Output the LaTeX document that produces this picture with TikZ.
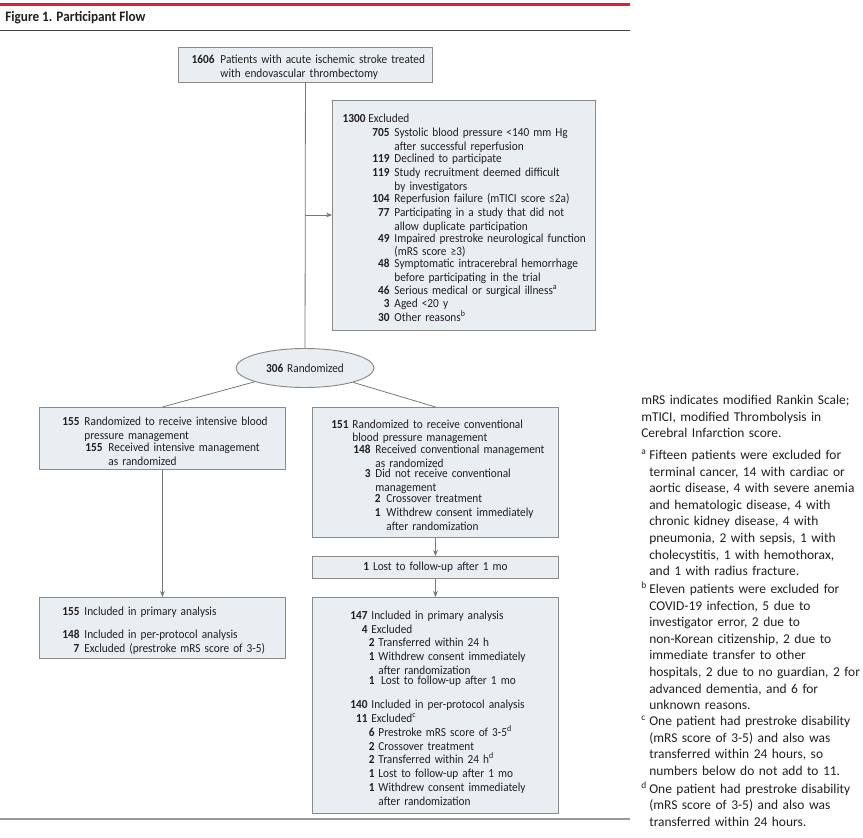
\documentclass[tikz,border=0pt]{standalone}
\usepackage{fontspec}
\setmainfont{Carlito}
\newfontfamily\condfont{Carlito}[FakeStretch=0.92]
\usetikzlibrary{shapes.geometric,arrows.meta}
\definecolor{jamared}{RGB}{222,30,62}
\definecolor{boxfill}{RGB}{232,238,241}
\definecolor{boxline}{RGB}{138,138,138}
\definecolor{linkgray}{RGB}{120,120,120}
\definecolor{inkblack}{RGB}{35,31,32}
% numero in grassetto allineato a destra, testo con rientro
\newcommand\nrow[4]{\par\noindent\rlap{\makebox[#1][r]{\textbf{#3}}}\hspace*{#2}\parbox[t]{\dimexpr\hsize-#2\relax}{\raggedright #4}\par}
\newcommand\fnote[2]{\par\vspace{3.75pt}\noindent\makebox[6pt][l]{\textsuperscript{#1}}\parbox[t]{\dimexpr\hsize-6pt\relax}{\raggedright #2}\par}
\tikzset{
  flowbox/.style={draw=boxline, fill=boxfill, line width=0.7pt, inner xsep=0pt, inner ysep=2pt,
    anchor=north west, align=left, text=inkblack, font=\condfont\fontsize{9.2}{10.4}\selectfont},
  link/.style={draw=linkgray, line width=0.6pt},
  linkarrow/.style={link, -{Stealth[length=4.5pt,width=3.6pt]}}
}
\begin{document}
\begin{tikzpicture}[x=0.75pt,y=-0.75pt]
    \useasboundingbox (0,0) rectangle (863,838);
    % Titolo
    \draw [jamared, line width=2.25pt] (0,5) -- (630,5);
    \node [anchor=west, inner sep=0pt, text=inkblack, font=\condfont\bfseries\fontsize{10.8}{13}\selectfont] (title) at (5,18) {Figure 1. Participant Flow};
    \draw [black!75, line width=0.75pt] (0,31) -- (630,31);
    \draw [black!40, line width=1.1pt] (0,819) -- (630,819);
    % Riquadri
    \node [flowbox, text width=190.5pt, minimum height=26.25pt] (pts) at (178,47) {
        \nrow{27pt}{31.5pt}{1606}{Patients with acute ischemic stroke treated\\with endovascular thrombectomy}};
    \node [flowbox, text width=197.25pt, minimum height=172.5pt] (excl) at (332,100) {
        \nrow{24.75pt}{27pt}{1300}{Excluded}
        \nrow{42.75pt}{46.5pt}{705}{Systolic blood pressure <140 mm Hg\\after successful reperfusion}
        \nrow{42.75pt}{46.5pt}{119}{Declined to participate}
        \nrow{42.75pt}{46.5pt}{119}{Study recruitment deemed difficult\\by investigators}
        \nrow{42.75pt}{46.5pt}{104}{Reperfusion failure (mTICI score ≤2a)}
        \nrow{42.75pt}{46.5pt}{77}{Participating in a study that did not\\allow duplicate participation}
        \nrow{42.75pt}{46.5pt}{49}{Impaired prestroke neurological function\\(mRS score ≥3)}
        \nrow{42.75pt}{46.5pt}{48}{Symptomatic intracerebral hemorrhage\\before participating in the trial}
        \nrow{42.75pt}{46.5pt}{46}{Serious medical or surgical illness\textsuperscript{a}}
        \nrow{42.75pt}{46.5pt}{3}{Aged <20 y}
        \nrow{42.75pt}{46.5pt}{30}{Other reasons\textsuperscript{b}}};
    \node [ellipse, draw=boxline, fill=boxfill, line width=0.7pt, inner sep=0pt, minimum width=103.5pt, minimum height=29.25pt,
        text=inkblack, font=\condfont\fontsize{9.2}{10.4}\selectfont] (rand) at (305,368) {\textbf{306}\hspace{3pt}Randomized};
    \node [flowbox, text width=184.5pt, minimum height=46.5pt] (intens) at (39,407) {
        \nrow{30pt}{33.75pt}{155}{Randomized to receive intensive blood\\pressure management}
        \nrow{47.25pt}{51.75pt}{155}{Received intensive management\\as randomized}};
    \node [flowbox, text width=184.5pt, minimum height=97.5pt] (conv) at (312,407) {
        \nrow{27pt}{30pt}{151}{Randomized to receive conventional\\blood pressure management}
        \nrow{43.5pt}{47.25pt}{148}{Received conventional management\\as randomized}
        \nrow{43.5pt}{47.25pt}{3}{Did not receive conventional\\management}
        \nrow{51pt}{55.5pt}{2}{Crossover treatment}
        \nrow{51pt}{55.5pt}{1}{Withdrew consent immediately\\after randomization}};
    \node [flowbox, text width=184.5pt, minimum height=16.5pt, align=center] (lost) at (312,556) {\textbf{1}\hspace{3pt}Lost to follow-up after 1 mo};
    \node [flowbox, text width=184.5pt, minimum height=45.75pt] (intensan) at (39,597) {
        \nrow{30pt}{33.75pt}{155}{Included in primary analysis}
        \vspace{6.75pt}
        \nrow{30pt}{33.75pt}{148}{Included in per-protocol analysis}
        \nrow{30pt}{33.75pt}{7}{Excluded (prestroke mRS score of 3-5)}};
    \node [flowbox, text width=184.5pt, minimum height=162pt] (convan) at (312,597) {
        \nrow{41.25pt}{44.25pt}{147}{Included in primary analysis}
        \nrow{41.25pt}{44.25pt}{4}{Excluded}
        \nrow{46.5pt}{49.5pt}{2}{Transferred within 24 h}
        \nrow{46.5pt}{49.5pt}{1}{Withdrew consent immediately\\after randomization}
        \nrow{46.5pt}{49.5pt}{1}{\hspace{2pt}Lost to follow-up after 1 mo}
        \vspace{7.5pt}
        \nrow{41.25pt}{44.25pt}{140}{Included in per-protocol analysis}
        \nrow{41.25pt}{44.25pt}{11}{Excluded\textsuperscript{c}}
        \nrow{46.5pt}{49.5pt}{6}{Prestroke mRS score of 3-5\textsuperscript{d}}
        \nrow{46.5pt}{49.5pt}{2}{Crossover treatment}
        \nrow{46.5pt}{49.5pt}{2}{Transferred within 24 h\textsuperscript{d}}
        \nrow{46.5pt}{49.5pt}{1}{Lost to follow-up after 1 mo}
        \nrow{46.5pt}{49.5pt}{1}{Withdrew consent immediately\\after randomization}};
    % Frecce
    \coordinate (split) at (305,215);
    \draw [link] (pts) -- (rand);
    \draw [linkarrow] (split) -- (excl.west |- split);
    \draw [link] (rand) -- (intens.north);
    \draw [link] (rand) -- (conv.north);
    \draw [linkarrow] (intens) -- (intensan);
    \draw [linkarrow] (conv) -- (lost);
    \draw [linkarrow] (lost) -- (convan);
    % Note
    \node [anchor=north west, inner sep=0pt, text width=166.5pt, align=left, text=inkblack,
        font=\fontsize{10.1}{12.45}\selectfont] (notes) at (641,395) {
        \noindent mRS indicates modified Rankin Scale;\\mTICI, modified Thrombolysis in\\Cerebral Infarction score.\par
        \fnote{a}{Fifteen patients were excluded for\\terminal cancer, 14 with cardiac or\\aortic disease, 4 with severe anemia\\and hematologic disease, 4 with\\chronic kidney disease, 4 with\\pneumonia, 2 with sepsis, 1 with\\cholecystitis, 1 with hemothorax,\\and 1 with radius fracture.}
        \fnote{b}{Eleven patients were excluded for\\COVID-19 infection, 5 due to\\investigator error, 2 due to\\non-Korean citizenship, 2 due to\\immediate transfer to other\\hospitals, 2 due to no guardian, 2 for\\advanced dementia, and 6 for\\unknown reasons.}
        \fnote{c}{One patient had prestroke disability\\(mRS score of 3-5) and also was\\transferred within 24 hours, so\\numbers below do not add to 11.}
        \fnote{d}{One patient had prestroke disability\\(mRS score of 3-5) and also was\\transferred within 24 hours.}};
\end{tikzpicture}
\end{document}
